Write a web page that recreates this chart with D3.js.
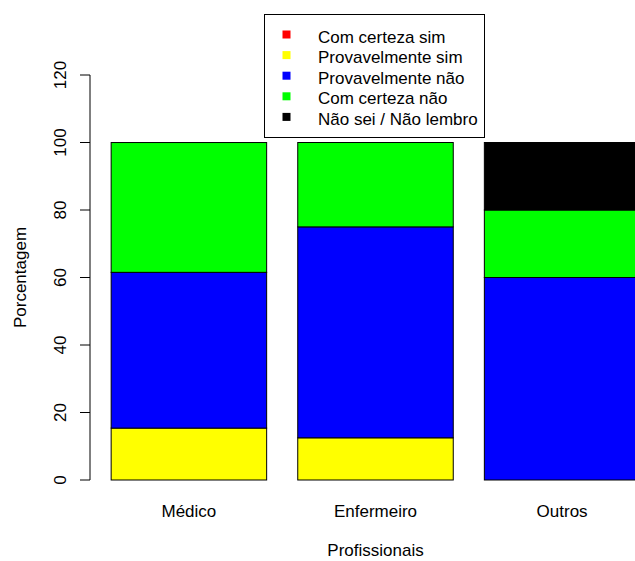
<!DOCTYPE html>
<html>
<head>
<meta charset="utf-8">
<script src="https://cdn.jsdelivr.net/npm/d3@7"></script>
<style>
  html, body { margin: 0; padding: 0; background: #fff; }
  svg { display: block; font-family: "Liberation Sans", Arial, sans-serif; }
</style>
</head>
<body>
<svg id="chart" width="635" height="561"></svg>
<script>
// Categories and answer series (percentages per professional group)
const categories = ["Médico", "Enfermeiro", "Outros"];
const seriesNames = ["Com certeza sim", "Provavelmente sim", "Provavelmente não", "Com certeza não", "Não sei / Não lembro"];
const seriesColors = ["#ff0000", "#ffff00", "#0000ff", "#00ff00", "#000000"];
const comCertezaSim = [0, 0, 0];
const provavelmenteSim = [15.38, 12.5, 0];
const provavelmenteNao = [46.15, 62.5, 60];
const comCertezaNao = [38.46, 25, 20];
const naoSeiNaoLembro = [0, 0, 20];
const yTicks = [0, 20, 40, 60, 80, 100, 120];

const seriesValues = [comCertezaSim, provavelmenteSim, provavelmenteNao, comCertezaNao, naoSeiNaoLembro];
const rows = categories.map((c, i) => {
  const r = { cat: c };
  seriesNames.forEach((s, j) => { r[s] = seriesValues[j][i]; });
  return r;
});
const stacked = d3.stack().keys(seriesNames)(rows);

const svg = d3.select("#chart");
const fontSize = 17;

// Bar positions in barplot units: width 1, space 0.2, range padded by 4%
const barWidth = 1, space = 0.2;
const xMin = 0.064, xMax = 3.736;
const x = d3.scaleLinear().domain([xMin, xMax]).range([90, 661]);
const y = d3.scaleLinear().domain([0, 120]).range([480, 75]);
const barLeft = i => space + i * (barWidth + space);

// Stacked bars
const layers = svg.append("g").selectAll("g")
  .data(stacked)
  .join("g")
  .attr("fill", (d, i) => seriesColors[i]);

layers.selectAll("rect")
  .data(d => d.map((seg, i) => ({ seg, i })))
  .join("rect")
  .attr("x", d => x(barLeft(d.i)))
  .attr("width", d => x(barLeft(d.i) + barWidth) - x(barLeft(d.i)))
  .attr("y", d => y(d.seg[1]))
  .attr("height", d => y(d.seg[0]) - y(d.seg[1]))
  .attr("stroke", "#000")
  .attr("stroke-width", 1);

// Y axis
const yAxis = svg.append("g").attr("transform", "translate(90,0)");
yAxis.append("line")
  .attr("x1", 0).attr("x2", 0)
  .attr("y1", y(yTicks[0])).attr("y2", y(yTicks[yTicks.length - 1]))
  .attr("stroke", "#000");
const yt = yAxis.selectAll("g.tick").data(yTicks).join("g")
  .attr("class", "tick")
  .attr("transform", d => `translate(0,${y(d)})`);
yt.append("line").attr("x1", -10).attr("x2", 0).attr("stroke", "#000");
yt.append("text")
  .attr("transform", "translate(-24,0) rotate(-90)")
  .attr("text-anchor", "middle")
  .attr("font-size", fontSize)
  .attr("fill", "#000")
  .text(d => d);

// Category labels
svg.append("g").selectAll("text")
  .data(categories)
  .join("text")
  .attr("x", (d, i) => x(barLeft(i) + barWidth / 2))
  .attr("y", 517)
  .attr("text-anchor", "middle")
  .attr("font-size", fontSize)
  .text(d => d);

// Axis titles
svg.append("text")
  .attr("x", x((xMin + xMax) / 2))
  .attr("y", 556)
  .attr("text-anchor", "middle")
  .attr("font-size", fontSize)
  .text("Profissionais");
svg.append("text")
  .attr("transform", `translate(26,${y(60)}) rotate(-90)`)
  .attr("text-anchor", "middle")
  .attr("font-size", fontSize)
  .text("Porcentagem");

// Legend
const legend = svg.append("g");
legend.append("rect")
  .attr("x", 264.5).attr("y", 14.5)
  .attr("width", 220).attr("height", 123)
  .attr("fill", "#fff")
  .attr("stroke", "#000");
const items = legend.selectAll("g.item").data(seriesNames).join("g")
  .attr("class", "item")
  .attr("transform", (d, i) => `translate(0,${42.5 + i * 20.6})`);
items.append("rect")
  .attr("x", 282.5).attr("y", -12)
  .attr("width", 8).attr("height", 8)
  .attr("fill", (d, i) => seriesColors[i]);
items.append("text")
  .attr("x", 318).attr("y", 0)
  .attr("font-size", fontSize)
  .text(d => d);
</script>
</body>
</html>
